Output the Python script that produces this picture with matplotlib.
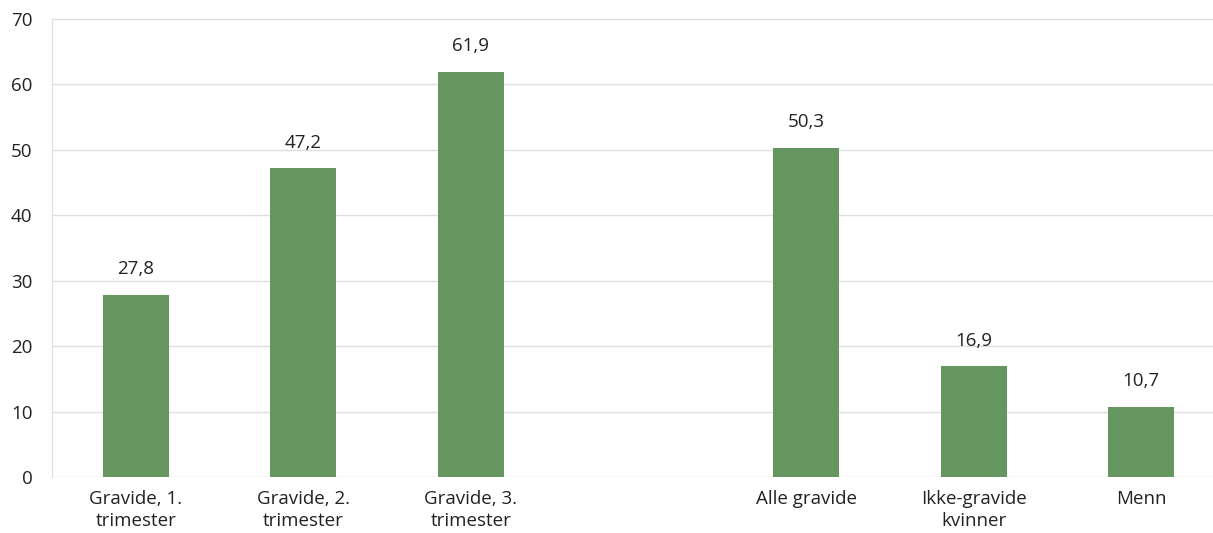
import numpy as np
import matplotlib.pyplot as plt

plt.rcParams['font.family'] = ['Open Sans', 'DejaVu Sans']

# Categories (blank slot separates the trimester bars from the totals)
categories = ['Gravide, 1.\ntrimester', 'Gravide, 2.\ntrimester', 'Gravide, 3.\ntrimester', '',
              'Alle gravide', 'Ikke-gravide\nkvinner', 'Menn']
values = [27.8, 47.2, 61.9, None, 50.3, 16.9, 10.7]
value_labels = ['27,8', '47,2', '61,9', '', '50,3', '16,9', '10,7']

bar_color = '#66965F'
grid_color = '#dedede'
text_color = '#222222'
fs = 13.5

fig = plt.figure(figsize=(12.13, 5.33), dpi=100)
ax = fig.add_axes([52 / 1213, 56 / 533, 1173 / 1213, 458 / 533])

x = np.arange(len(categories))
for xi, v, lab in zip(x, values, value_labels):
    if v is None:
        continue
    ax.bar(xi, v, width=0.395, color=bar_color, zorder=3)
    ax.annotate(lab, (xi, v), xytext=(0, 12), textcoords='offset points',
                ha='center', va='bottom', fontsize=fs, color=text_color)

ax.set_xlim(-0.5, len(categories) - 0.5)
ax.set_ylim(0, 70)
ax.set_yticks(range(0, 71, 10))
ax.set_xticks(x)
ax.set_xticklabels(categories, fontsize=fs, color=text_color, linespacing=1.35)
ax.tick_params(axis='y', labelsize=fs, labelcolor=text_color, length=0, pad=14)
ax.tick_params(axis='x', length=0, pad=9)
ax.yaxis.grid(True, color=grid_color, linewidth=1, zorder=0)
ax.set_axisbelow(True)
for side in ['top', 'right', 'bottom']:
    ax.spines[side].set_visible(False)
ax.spines['left'].set_color(grid_color)

fig.savefig('out.png', dpi=100)
